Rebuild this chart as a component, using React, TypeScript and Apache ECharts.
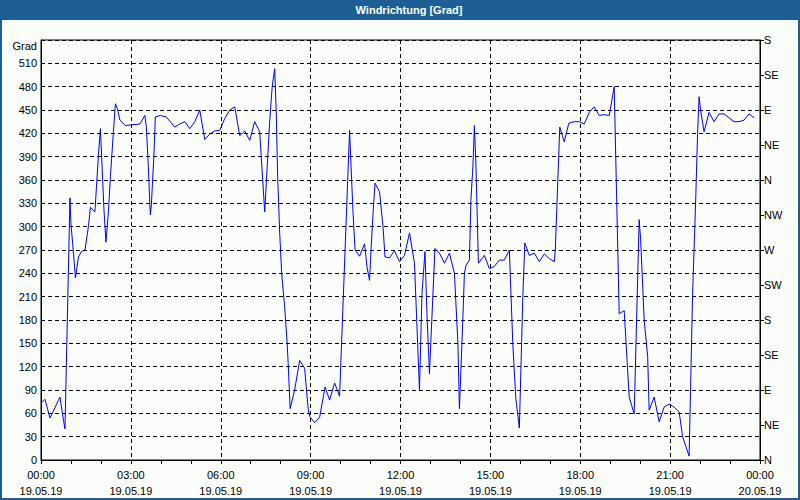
import React, { useEffect, useRef } from "react";
import * as echarts from "echarts";

// minutes since 19.05.19 00:00
const minutes = [
  0, 8, 18, 38, 45, 48, 58, 60, 65, 69, 75, 81, 88, 95, 99, 108, 115, 119, 126, 130, 135, 139, 145, 149, 153, 158, 169, 198, 208, 211, 215, 218, 219, 221, 226, 229, 239, 251, 268, 278, 288, 298,
  308, 318, 328, 338, 348, 358, 368, 378, 388, 398, 408, 418, 428, 438, 448, 458, 463, 468, 471, 474, 478, 482, 488, 493, 495, 499, 508, 518, 528, 535, 538, 548, 558, 569, 578, 588, 598,
  618, 621, 625, 629, 638, 648, 653, 658, 661, 665, 669, 678, 685, 689, 698, 708, 718, 728, 738, 748, 758, 763, 769, 773, 778, 785, 789, 798, 808, 818, 828, 835, 838, 841, 845, 848, 851, 858, 861, 865, 868, 871, 876,
  888, 898, 908, 918, 928, 938, 945, 951, 958, 965, 969, 978, 988, 998, 1008, 1018, 1028, 1030, 1039, 1048, 1057, 1068, 1078, 1088, 1098, 1108, 1118, 1128, 1138, 1148, 1158, 1168, 1178, 1188, 1198, 1201, 1208, 1215, 1218, 1228, 1238, 1248, 1258, 1268, 1278, 1285, 1298, 1301, 1305, 1311, 1315, 1318, 1321, 1328, 1338, 1348, 1358, 1368, 1378, 1388, 1398, 1408, 1418, 1428,
];

const degrees = [
  73, 78, 54, 81, 51, 40, 337, 304, 266, 234, 261, 268, 270, 300, 325, 319, 392, 426, 323, 280, 319, 364, 422, 458, 452, 437, 430, 432, 443, 428, 377, 328, 315, 328, 390, 441, 443, 441, 428, 432, 435, 426,
  435, 450, 412, 419, 423, 424, 439, 450, 454, 417, 423, 411, 435, 422, 319, 435, 480, 503, 450, 364, 293, 240, 197, 150, 124, 66, 90, 128, 118, 66, 56, 48, 55, 94, 77, 99, 82,
  424, 377, 317, 270, 262, 278, 248, 231, 270, 317, 356, 345, 300, 261, 260, 269, 255, 263, 292, 253, 90, 214, 268, 188, 111, 214, 272, 266, 253, 266, 240, 150, 66, 116, 184, 240, 250, 257, 334, 377, 430, 381, 253,
  263, 246, 249, 257, 257, 270, 148, 79, 41, 210, 279, 263, 266, 255, 265, 259, 255, 270, 428, 409, 433, 435, 435, 432, 447, 454, 443, 444, 443, 480, 188, 192, 81, 59, 309, 283, 180, 133, 64, 81, 49, 68, 72, 68, 62, 30, 5, 94, 214, 330, 420, 467, 450, 422, 447, 435, 445, 445, 440, 435, 435, 437, 445, 440,
];

const compass = ["N", "NE", "E", "SE", "S", "SW", "W", "NW"];
const dayLabels = ["19.05.19", "20.05.19"];
const titleText = "Windrichtung [Grad]";
const unitText = "Grad";

const FONT = "Liberation Sans";
const BLUE = "#1d5f94";

export default function App() {
  const ref = useRef<HTMLDivElement>(null);
  useEffect(() => {
    document.body.style.margin = "0";
    const chart = echarts.init(ref.current!, null, { renderer: "svg" });
    const data = minutes.map((m, i) => [m, degrees[i]]);
    const pad = (n: number) => (n < 10 ? "0" + n : "" + n);
    chart.setOption({
      animation: false,
      backgroundColor: "#fbfdfb",
      textStyle: { fontFamily: FONT },
      grid: {
        left: 41,
        right: 40,
        top: 40,
        bottom: 40,
        show: true,
        borderColor: "#000",
        borderWidth: 1,
        backgroundColor: "transparent",
      },
      xAxis: {
        type: "value",
        min: 0,
        max: 1440,
        interval: 180,
        axisLine: { show: true, lineStyle: { color: "#000", width: 1 } },
        axisTick: { show: true, inside: false, length: 4, lineStyle: { color: "#000" } },
        minorTick: { show: true, splitNumber: 3, length: 4, lineStyle: { color: "#000" } },
        splitLine: { show: true, lineStyle: { color: "#000", width: 1, type: [4, 3] } },
        axisLabel: {
          color: "#000",
          fontSize: 11,
          fontFamily: FONT,
          lineHeight: 16,
          margin: 7,
          formatter: (v: number) => {
            const h = Math.floor(v / 60) % 24;
            const m = v % 60;
            const day = v >= 1440 ? dayLabels[1] : dayLabels[0];
            return pad(h) + ":" + pad(m) + "\n" + day;
          },
        },
      },
      yAxis: [
        {
          type: "value",
          min: 0,
          max: 540,
          interval: 30,
          position: "left",
          axisLine: { show: true, lineStyle: { color: "#000", width: 1 } },
          axisTick: { show: false },
          splitLine: { show: true, lineStyle: { color: "#000", width: 1, type: [4, 3] } },
          axisLabel: {
            color: "#000",
            fontSize: 11,
            fontFamily: FONT,
            margin: 4,
            formatter: (v: number) => (v >= 540 ? "" : String(v)),
          },
        },
        {
          type: "value",
          min: 0,
          max: 540,
          interval: 45,
          position: "right",
          axisLine: { show: true, lineStyle: { color: "#000", width: 1 } },
          axisTick: { show: true, inside: false, length: 4, lineStyle: { color: "#000" } },
          splitLine: { show: false },
          axisLabel: {
            color: "#000",
            fontSize: 11,
            fontFamily: FONT,
            margin: 4,
            formatter: (v: number) => compass[Math.round(v / 45) % 8],
          },
        },
      ],
      series: [
        {
          type: "line",
          data,
          yAxisIndex: 0,
          symbol: "none",
          lineStyle: { color: "#0000ff", width: 1 },
          silent: true,
        },
      ],
      graphic: [
        { type: "rect", shape: { x: 0, y: 0, width: 800, height: 20 }, style: { fill: BLUE }, silent: true },
        { type: "rect", shape: { x: 0, y: 0, width: 2, height: 500 }, style: { fill: BLUE }, silent: true },
        { type: "rect", shape: { x: 798, y: 0, width: 2, height: 500 }, style: { fill: BLUE }, silent: true },
        { type: "rect", shape: { x: 0, y: 498, width: 800, height: 2 }, style: { fill: BLUE }, silent: true },
        {
          type: "text",
          x: 409,
          y: 10,
          style: {
            text: titleText,
            fill: "#fff",
            font: "bold 11px 'Liberation Sans'",
            align: "center",
            verticalAlign: "middle",
          },
          silent: true,
        },
        {
          type: "text",
          x: 37,
          y: 46,
          style: {
            text: unitText,
            fill: "#000",
            font: "11px 'Liberation Sans'",
            align: "right",
            verticalAlign: "middle",
          },
          silent: true,
        },
      ],
    });
    return () => chart.dispose();
  }, []);
  return <div ref={ref} style={{ width: 800, height: 500, position: "absolute", left: 0, top: 0 }} />;
}
